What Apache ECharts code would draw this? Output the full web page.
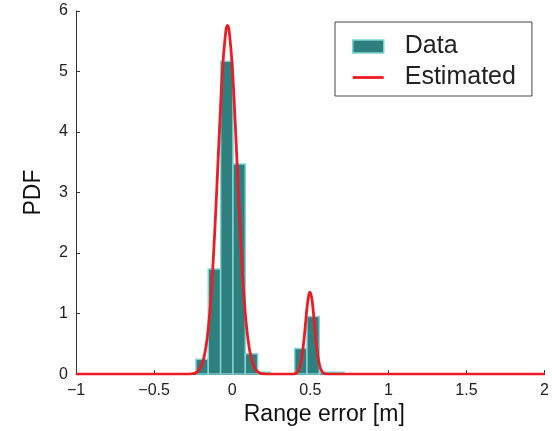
<!DOCTYPE html>
<html>
<head>
<meta charset="utf-8">
<script src="https://cdn.jsdelivr.net/npm/echarts@6/dist/echarts.min.js"></script>
<style>
html,body{margin:0;padding:0;background:#fff;}
#chart{width:552px;height:431px;}
</style>
</head>
<body>
<div id="chart"></div>
<script>
// Histogram bins (range error in m) and densities
const binLo = [-0.232, -0.153, -0.074, 0.005, 0.084, 0.163, 0.400, 0.479, 0.558, 0.637];
const binHi = [-0.153, -0.074, 0.005, 0.084, 0.163, 0.242, 0.479, 0.558, 0.637, 0.716];
const binDensity = [0.245, 1.735, 5.17, 3.47, 0.337, 0.03, 0.425, 0.95, 0.03, 0.03];

// Estimated PDF curve
const curveX = [-1, -0.5, -0.3, -0.26, -0.24, -0.22, -0.20, -0.18, -0.16, -0.14, -0.12, -0.10, -0.08, -0.06, -0.04, -0.03, -0.02, 0.00, 0.02, 0.04, 0.06, 0.08, 0.10, 0.12, 0.14, 0.16, 0.18, 0.20, 0.24, 0.30, 0.38, 0.40, 0.42, 0.44, 0.46, 0.47, 0.48, 0.49, 0.498, 0.51, 0.52, 0.53, 0.54, 0.56, 0.58, 0.60, 0.64, 1.0, 1.5, 2.0];
const curveY = [0, 0, 0, 0.005, 0.015, 0.045, 0.119, 0.28, 0.595, 1.13, 1.94, 2.98, 4.12, 5.10, 5.68, 5.76, 5.68, 5.10, 4.12, 2.98, 1.94, 1.13, 0.595, 0.28, 0.119, 0.045, 0.015, 0.005, 0, 0, 0, 0.004, 0.036, 0.183, 0.574, 0.85, 1.117, 1.30, 1.355, 1.244, 1.016, 0.737, 0.475, 0.138, 0.025, 0.003, 0, 0, 0, 0];

const seriesNames = ['Data', 'Estimated'];
const xTitle = 'Range error [m]';
const yTitle = 'PDF';

const TEAL = '#2e7f7e';
const TEAL_EDGE = '#80d4d4';
const RED = '#ec1c24';
const AXIS = '#333333';
const FONT = 'Liberation Sans, Arial, Helvetica, sans-serif';

const histData = binLo.map((lo, i) => [lo, binHi[i], binDensity[i]]);
const curveData = curveX.map((x, i) => [x, curveY[i]]);

const fmt = v => (v < 0 ? '\u2212' + Math.abs(v) : String(v));

const chart = echarts.init(document.getElementById('chart'), null, {renderer: 'canvas'});
chart.setOption({
  animation: false,
  backgroundColor: '#fff',
  grid: {left: 76, right: 7, top: 11, bottom: 51, containLabel: false},
  xAxis: {
    type: 'value', min: -1, max: 2, interval: 0.5,
    name: xTitle, nameLocation: 'middle', nameGap: 19,
    nameTextStyle: {fontFamily: FONT, fontSize: 23, color: '#111', padding: [0, 0, 0, 28]},
    axisLine: {show: true, onZero: false, lineStyle: {color: AXIS, width: 1}},
    axisTick: {show: true, inside: true, length: 4, lineStyle: {color: AXIS}},
    axisLabel: {fontFamily: FONT, fontSize: 16, color: '#222', margin: 8, formatter: fmt},
    splitLine: {show: false}
  },
  yAxis: {
    type: 'value', min: 0, max: 6, interval: 1,
    name: yTitle, nameLocation: 'middle', nameGap: 31,
    nameTextStyle: {fontFamily: FONT, fontSize: 23, color: '#111'},
    axisLine: {show: true, onZero: false, lineStyle: {color: AXIS, width: 1}},
    axisTick: {show: true, inside: true, length: 4, lineStyle: {color: AXIS}},
    axisLabel: {fontFamily: FONT, fontSize: 16, color: '#222', margin: 8},
    splitLine: {show: false}
  },
  legend: {
    orient: 'vertical',
    left: 335, top: 22,
    padding: [12, 16, 6, 17],
    itemGap: 6,
    itemWidth: 31, itemHeight: 13,
    symbolKeepAspect: true,
    borderColor: '#444', borderWidth: 1,
    backgroundColor: '#fff',
    textStyle: {fontFamily: FONT, fontSize: 25, color: '#222', padding: [0, 0, 0, 16]},
    data: [
      {name: seriesNames[0], icon: 'rect', itemStyle: {color: TEAL, borderColor: TEAL_EDGE, borderWidth: 1.5}},
      {name: seriesNames[1], icon: 'path://M0,0H31V2.8H0Z', itemStyle: {color: RED, borderWidth: 0}}
    ]
  },
  series: [
    {
      name: seriesNames[0],
      type: 'custom',
      data: histData,
      encode: {x: [0, 1], y: 2},
      itemStyle: {color: TEAL, borderColor: TEAL_EDGE, borderWidth: 1.5},
      renderItem: function (params, api) {
        const p0 = api.coord([api.value(0), api.value(2)]);
        const p1 = api.coord([api.value(1), 0]);
        return {
          type: 'rect',
          shape: {x: p0[0], y: p0[1], width: p1[0] - p0[0], height: p1[1] - p0[1]},
          style: {fill: TEAL, stroke: TEAL_EDGE, lineWidth: 1.5}
        };
      },
      z: 2
    },
    {
      name: seriesNames[1],
      type: 'line',
      data: curveData,
      smooth: 0.4,
      symbol: 'none',
      lineStyle: {color: RED, width: 2.8},
      itemStyle: {color: RED},
      z: 3
    }
  ]
});
</script>
</body>
</html>
